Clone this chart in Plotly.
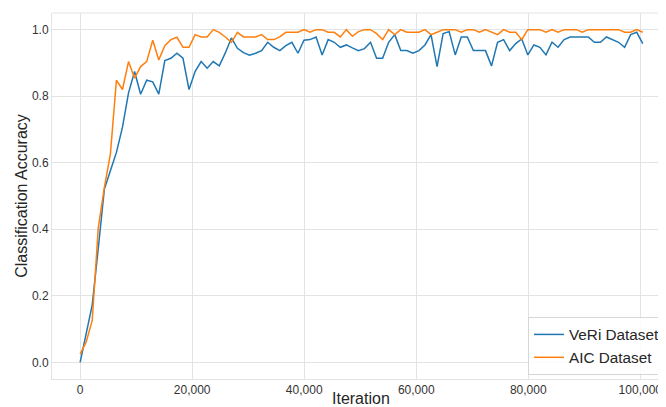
import plotly.graph_objects as go

# Classification accuracy (one value per evaluation)
veri = [0.0, 0.088, 0.173, 0.343, 0.52, 0.576, 0.631, 0.707, 0.81, 0.874,
        0.806, 0.848, 0.843, 0.806, 0.907, 0.914, 0.929, 0.914, 0.82, 0.874,
        0.904, 0.884, 0.904, 0.891, 0.93, 0.975, 0.944, 0.931, 0.923, 0.929,
        0.937, 0.962, 0.947, 0.937, 0.952, 0.962, 0.929, 0.968, 0.97, 0.978,
        0.924, 0.97, 0.962, 0.947, 0.954, 0.945, 0.937, 0.943, 0.962, 0.914,
        0.914, 0.962, 0.985, 0.937, 0.937, 0.929, 0.937, 0.954, 0.985, 0.889,
        0.988, 0.994, 0.924, 0.978, 0.978, 0.937, 0.937, 0.937, 0.891, 0.962,
        0.97, 0.937, 0.958, 0.972, 0.924, 0.954, 0.947, 0.924, 0.962, 0.947,
        0.97, 0.978, 0.978, 0.978, 0.978, 0.962, 0.962, 0.978, 0.97, 0.962,
        0.947, 0.985, 0.992, 0.958]
aic = [0.025, 0.061, 0.126, 0.404, 0.525, 0.626, 0.848, 0.82, 0.904, 0.854,
       0.889, 0.904, 0.968, 0.909, 0.952, 0.97, 0.977, 0.947, 0.947, 0.985,
       0.978, 0.978, 1.0, 0.992, 0.978, 0.962, 0.992, 0.978, 0.978, 0.978,
       0.985, 0.97, 0.97, 0.978, 0.992, 0.992, 0.992, 1.0, 0.992, 1.0,
       1.0, 0.992, 0.992, 0.978, 1.0, 0.98, 0.994, 1.0, 1.0, 0.988,
       0.97, 1.0, 0.985, 1.0, 0.992, 0.992, 0.992, 1.0, 0.985, 0.992,
       1.0, 1.0, 1.0, 0.992, 1.0, 1.0, 0.992, 1.0, 0.992, 0.985,
       1.0, 0.992, 0.992, 0.97, 1.0, 1.0, 1.0, 0.992, 1.0, 0.992,
       1.0, 1.0, 1.0, 0.992, 1.0, 1.0, 1.0, 1.0, 1.0, 1.0,
       0.992, 0.992, 1.0, 0.992]
eval_step = 1080
iterations = [i * eval_step for i in range(len(veri))]

x_ticks = [0, 20000, 40000, 60000, 80000, 100000]
y_ticks = [0.0, 0.2, 0.4, 0.6, 0.8, 1.0]
series_names = ["VeRi Dataset", "AIC Dataset"]
series_colors = ["#1f77b4", "#ff7f0e"]

FONT = "Liberation Sans, Arial, sans-serif"
GRID = "#e3e3e3"

fig = go.Figure()
for name, ys, col in zip(series_names, [veri, aic], series_colors):
    fig.add_trace(go.Scatter(x=iterations, y=ys, mode="lines", name=name,
                             line=dict(color=col, width=1.5)))

axis_common = dict(showgrid=True, gridcolor=GRID, gridwidth=1, zeroline=False,
                   showline=True, linecolor=GRID, linewidth=1, ticks="",
                   tickfont=dict(size=12, color="#333333", family=FONT),
                   ticklabeloverflow="allow", automargin=False)

# page body has an 8px margin, so the figure is sized to end at the window edge
fig.update_layout(
    width=658, height=399,
    margin=dict(l=44, r=0, t=5.4, b=28),
    paper_bgcolor="white", plot_bgcolor="white",
    font=dict(family=FONT, color="#262626"),
    xaxis=dict(range=[-5022, 103516], tickvals=x_ticks, tickformat=",d", **axis_common),
    yaxis=dict(range=[-0.05, 1.05], tickvals=y_ticks, tickformat=".1f", **axis_common),
    showlegend=True,
    legend=dict(x=0.7834, xanchor="left", y=0.011, yanchor="bottom",
                font=dict(size=15.3, family=FONT, color="#262626"),
                bgcolor="rgba(255,255,255,0.85)", bordercolor="#d6d6d6", borderwidth=1),
    shapes=[dict(type="line", xref="paper", yref="paper", x0=0, x1=1, y0=1, y1=1,
                 line=dict(color=GRID, width=1))],
    annotations=[
        dict(text="Iteration", xref="paper", yref="paper", x=0.509, y=-0.0546,
             xanchor="center", yanchor="middle", showarrow=False,
             font=dict(size=16, family=FONT, color="#262626")),
        dict(text="Classification Accuracy", xref="paper", yref="paper", x=-0.0513, y=0.5,
             xanchor="center", yanchor="middle", textangle=-90, showarrow=False,
             font=dict(size=16, family=FONT, color="#262626")),
    ],
)

fig.write_html("out.html")
